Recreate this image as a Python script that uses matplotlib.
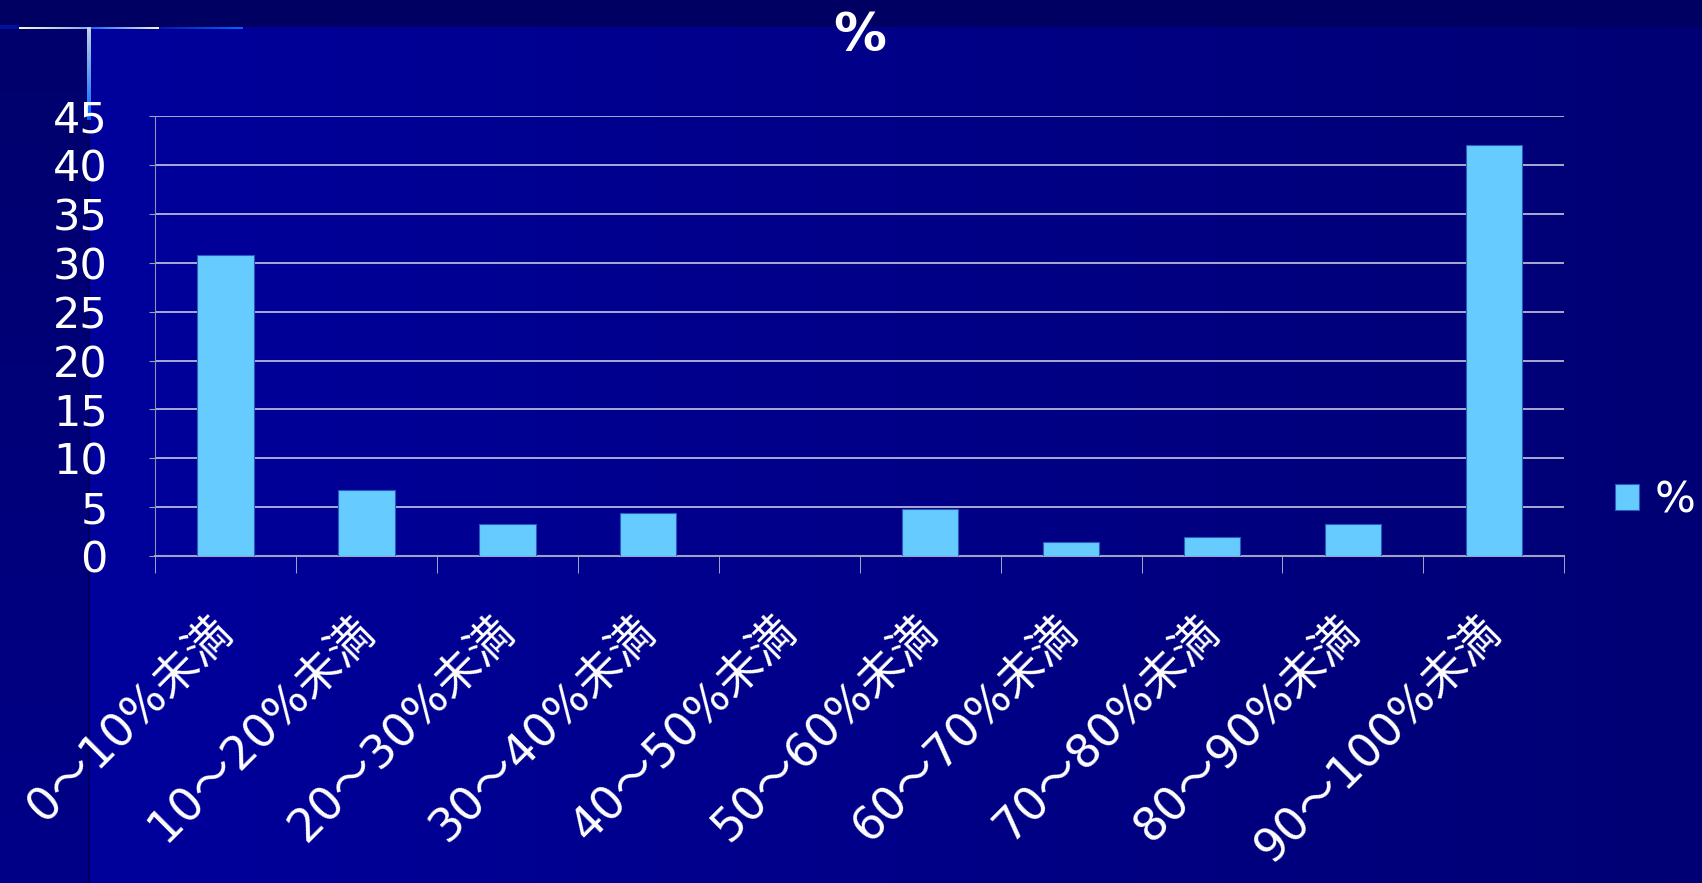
import numpy as np
import matplotlib
matplotlib.use("Agg")
import matplotlib.pyplot as plt
from matplotlib.patches import Rectangle

plt.rcParams['font.family'] = ['DejaVu Sans', 'Noto Sans CJK JP']

# data
categories = ['0～10%未満', '10～20%未満', '20～30%未満', '30～40%未満', '40～50%未満',
              '50～60%未満', '60～70%未満', '70～80%未満', '80～90%未満', '90～100%未満']
values = [30.8, 6.8, 3.3, 4.4, 0, 4.8, 1.4, 1.9, 3.3, 42.1]
yticks = [0, 5, 10, 15, 20, 25, 30, 35, 40, 45]
series_name = '%'

W, H = 1702, 883
fig = plt.figure(figsize=(W / 100, H / 100), dpi=100)

# slide background, drawn in pixel coordinates
bg = fig.add_axes([0, 0, 1, 1], zorder=-10)
bg.set_xlim(0, W)
bg.set_ylim(H, 0)
bg.axis('off')

def hgrad(c1, c2, n=256):
    c1 = np.array(matplotlib.colors.to_rgb(c1))
    c2 = np.array(matplotlib.colors.to_rgb(c2))
    t = np.linspace(0, 1, n)[None, :, None]
    return c1 + (c2 - c1) * t

def vgrad(c1, c2, n=256):
    return hgrad(c1, c2, n).transpose(1, 0, 2)

# main gradient: brighter blue at left, darker navy at right
bg.imshow(hgrad('#00009c', '#000074'), extent=[88, W, H, 27], aspect='auto')
# darker strip on the left
bg.imshow(vgrad('#00006c', '#000088'), extent=[0, 88, H, 27], aspect='auto')
# top band
bg.add_patch(Rectangle((0, 0), W, 27, color='#000062', lw=0))
# horizontal accent line
bg.add_patch(Rectangle((0, 25), 19, 4, color='#0010a0', lw=0))
bg.imshow(hgrad('#f8f8d8', '#1060ff')[:, :128], extent=[19, 89, 29, 25], aspect='auto')
bg.imshow(hgrad('#1060ff', '#f8f8d8'), extent=[89, 159, 29, 25], aspect='auto')
bg.imshow(hgrad('#0818a8', '#0066ff'), extent=[159, 243, 29, 25], aspect='auto')
# vertical accent line
bg.imshow(vgrad('#f8f8d8', '#0066ff'), extent=[87, 91, 120, 0], aspect='auto')
bg.add_patch(Rectangle((87.5, 120), 2, H - 120, color='#00005a', lw=0))

ax = fig.add_axes([0.0911, 0.3703, 0.828, 0.498])
ax.patch.set_alpha(0)
x = np.arange(len(categories))
ax.bar(x, values, width=0.4, color='#66ccff', edgecolor='#2a5cc0', linewidth=0.8,
       zorder=3, label=series_name)

ax.set_xlim(-0.5, len(categories) - 0.5)
ax.set_ylim(0, 45)
ax.set_yticks(yticks)
ax.yaxis.grid(True, color='#d8d8e8', linewidth=1.1, zorder=0)
ax.set_axisbelow(True)

for s in ['top', 'right']:
    ax.spines[s].set_visible(False)
ax.spines['left'].set_color('#9090b0')
ax.spines['bottom'].set_color('#a0a0c0')
ax.spines['bottom'].set_linewidth(1.5)

ax.set_xticks(x)
ax.set_xticklabels(categories, rotation=45, ha='right', va='center',
                   rotation_mode='anchor', color='white', fontsize=33)
ax.set_xticks(np.arange(-0.5, len(categories)), minor=True)
ax.tick_params(axis='x', which='major', length=0, pad=49)
ax.tick_params(axis='x', which='minor', length=12, color='#c0c0d8', direction='out')
ax.tick_params(axis='y', length=4, color='#a0a0c0', pad=30, labelsize=31,
               labelcolor='white')

ax.set_title('%', color='white', fontsize=38, fontweight='bold', pad=47)

leg = ax.legend(loc='center left', bbox_to_anchor=(1.036, 0.127), frameon=False,
                fontsize=31, labelcolor='white', handlelength=0.55, handleheight=0.55,
                handletextpad=0.37, borderaxespad=0, borderpad=0)

fig.savefig('out.png', dpi=100)
